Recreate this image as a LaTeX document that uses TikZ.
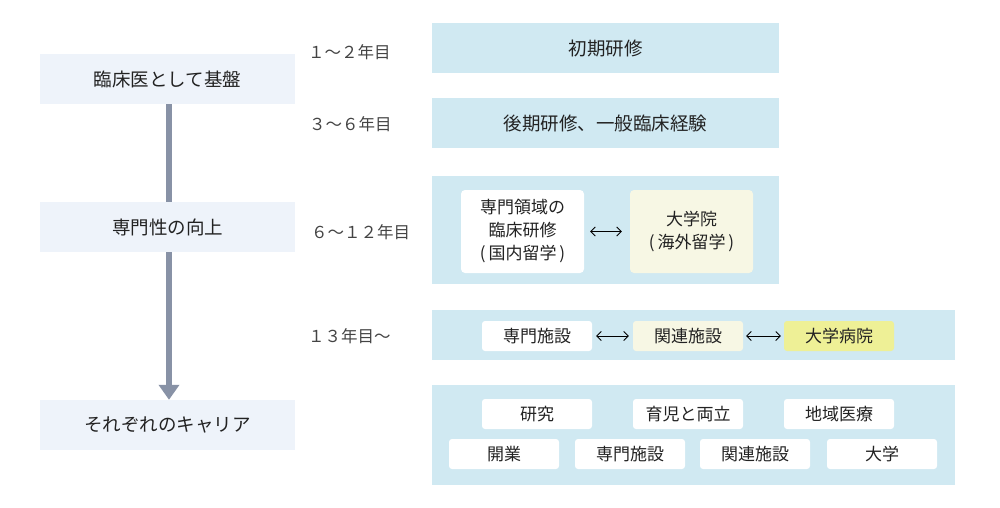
\documentclass[tikz,border=0pt]{standalone}
\usepackage{fontspec}
\setmainfont{Noto Sans CJK JP}
\usetikzlibrary{arrows.meta}
\definecolor{leftbg}{HTML}{EEF3FA}
\definecolor{rowbg}{HTML}{D0E9F2}
\definecolor{cream}{HTML}{F7F7E4}
\definecolor{yel}{HTML}{EEF096}
\definecolor{arrowc}{HTML}{8892A6}
\definecolor{txt}{HTML}{222222}
\definecolor{yeartxt}{HTML}{444444}
\begin{document}
\begin{tikzpicture}[x=1pt,y=-1pt,
 stage/.style={fill=leftbg, minimum width=255pt, minimum height=50pt, inner sep=0pt, font=\fontsize{18.5}{22}\selectfont, text=txt},
 band/.style={fill=rowbg, inner sep=0pt, font=\fontsize{18.5}{22}\selectfont, text=txt},
 chip/.style={fill=white, rounded corners=3pt, minimum width=110pt, minimum height=30pt, inner sep=0pt, font=\fontsize{17}{20}\selectfont, text=txt},
 panel/.style={rounded corners=4pt, minimum width=123pt, minimum height=83pt, inner sep=0pt, align=center, font=\fontsize{17}{23}\selectfont, text=txt},
 year/.style={anchor=west, inner sep=0pt, font=\fontsize{16.5}{18}\selectfont, text=yeartxt},
 dbl/.style={{Straight Barb[length=4.5pt,width=9pt]}-{Straight Barb[length=4.5pt,width=9pt]}, line width=0.8pt, black},
]
\useasboundingbox (0,0) rectangle (1000,508);

% left stages
\node[stage] (s1) at (167.5,79) {臨床医として基盤};
\node[stage] (s2) at (167.5,227) {専門性の向上};
\node[stage] (s3) at (167.5,425) {それぞれのキャリア};
\draw[arrowc, line width=6pt] ([xshift=1.5pt]s1.south) -- ([xshift=1.5pt]s2.north);
\draw[arrowc, line width=6pt, -{Triangle[width=20pt,length=15pt]}] ([xshift=1.5pt]s2.south) -- ([xshift=1.5pt]s3.north);

% year labels
\node[year] (y1) at (308,52) {１～２年目};
\node[year] (y2) at (309,124.5) {３～６年目};
\node[year] (y3) at (311,232.5) {６～１２年目};
\node[year] (y4) at (308,336) {１３年目～};

% bands
\node[band, minimum width=347pt, minimum height=50pt] (ba) at (605.5,48) {初期研修};
\node[band, minimum width=347pt, minimum height=50pt] (bb) at (605.5,123) {後期研修、一般臨床経験};
\node[band, minimum width=347pt, minimum height=108pt] (bc) at (605.5,230) {};
\node[band, minimum width=523pt, minimum height=50pt] (bd) at (693.5,335) {};
\node[band, minimum width=523pt, minimum height=100pt] (be) at (693.5,435) {};

% band C panels
\node[panel, fill=white] (p1) at (522.5,231.5) {専門領域の\\臨床研修\\(\kern3pt国内留学\kern3pt)};
\node[panel, fill=cream] (p2) at (691.5,231.5) {大学院\\(\kern3pt海外留学\kern3pt)};
\draw[dbl, shorten <=6pt, shorten >=8pt] (p1.east) -- (p2.west);

% band D chips
\node[chip] (d1) at (537,336) {専門施設};
\node[chip, fill=cream] (d2) at (688,336) {関連施設};
\node[chip, fill=yel] (d3) at (839,336) {大学病院};
\draw[dbl, shorten <=4pt, shorten >=4pt] (d1.east) -- (d2.west);
\draw[dbl, shorten <=3pt, shorten >=3pt] (d2.east) -- (d3.west);

% band E chips
\node[chip] (e1) at (537,414) {研究};
\node[chip] (e2) at (688,414) {育児と両立};
\node[chip] (e3) at (839,414) {地域医療};
\node[chip] (f1) at (504,454) {開業};
\node[chip] (f2) at (630,454) {専門施設};
\node[chip] (f3) at (755,454) {関連施設};
\node[chip] (f4) at (882,454) {大学};
\end{tikzpicture}
\end{document}
